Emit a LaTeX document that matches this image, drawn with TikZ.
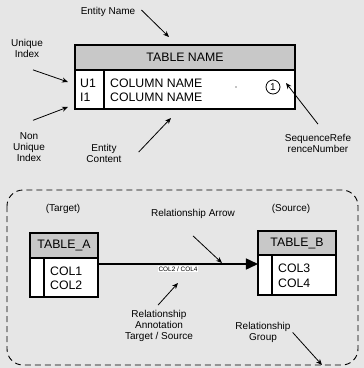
\documentclass[tikz,border=0pt]{standalone}
\usepackage{fontspec}
\setmainfont{Liberation Sans}
\usetikzlibrary{arrows.meta,positioning,calc}
\definecolor{bggray}{RGB}{230,230,230}
\definecolor{headgray}{RGB}{200,200,200}

\begin{document}
\begin{tikzpicture}[x=1pt,y=-1pt,>=Stealth,
    lbl/.style={align=center,font=\fontsize{10}{11}\selectfont,inner sep=1pt},
    ptr/.style={-{Stealth[length=6pt,width=5pt]},line width=0.8pt},
    thead/.style={draw,line width=1.2pt,fill=headgray,outer sep=0pt,inner sep=0pt,minimum height=25pt,font=\fontsize{12.3}{14}\selectfont},
    tbody/.style={draw,line width=1.2pt,fill=white,outer sep=0pt,inner sep=0pt},
    cell/.style={anchor=west,inner sep=0pt,font=\fontsize{12.3}{14}\selectfont}]
    % background
    \fill[bggray] (0,0) rectangle (364,368);

    % Legend table
    \node[thead,minimum width=220pt] (tname) at (185,57.5) {TABLE NAME};
    \node[tbody,minimum width=220pt,minimum height=39pt,below=0pt of tname] (tcontent) {};
    \draw[line width=1.2pt] ($(tcontent.north west)+(29,0)$) -- ($(tcontent.south west)+(29,0)$);
    \node[cell] (u1) at (80,83) {U1};
    \node[cell] (i1) at (80,97) {I1};
    \node[cell] (colname1) at (110,83) {COLUMN NAME};
    \node[cell] (colname2) at (110,97) {COLUMN NAME};
    \fill (236,87) circle (0.6pt);
    \node[draw,circle,line width=0.8pt,minimum size=14pt,inner sep=0pt,font=\fontsize{10}{11}\selectfont] (seq) at (273,87) {1};

    % Legend labels
    \node[lbl] (lblname) at (108,12) {Entity Name};
    \node[lbl] (lbluniq) at (27,48.5) {Unique\\Index};
    \node[lbl] (lblnonuniq) at (29,147) {Non\\Unique\\Index};
    \node[lbl] (lblcontent) at (104,153) {Entity\\Content};
    \node[lbl] (lblseq) at (318,143.5) {SequenceRefe\\renceNumber};

    \coordinate (nametip) at (169,37);
    \coordinate (uniqtip) at (68,82);
    \coordinate (nonuniqtip) at (68,107);
    \coordinate (contenttip) at (171,118);
    \coordinate (seqtip) at (286,83);

    \draw[ptr] ([shift={(5,-2)}]lblname.east) -- (nametip);
    \draw[ptr] ([shift={(6,11)}]lbluniq.south) -- (uniqtip);
    \draw[ptr] ([shift={(4,-11)}]lblnonuniq.north) -- (nonuniqtip);
    \draw[ptr] ([shift={(16,-1)}]lblcontent.east) -- (contenttip);
    \draw[ptr] ([shift={(0,-9)}]lblseq.north) -- (seqtip);

    % Relationship group
    \draw[dash pattern=on 6pt off 4pt,rounded corners=16pt,line width=0.9pt] (7,190) rectangle (358,365);

    \node[lbl] (lbltarget) at (63,209) {(Target)};
    \node[lbl] (lblsource) at (291,209) {(Source)};
    \node[lbl] (lblrelarrow) at (193,214) {Relationship Arrow};

    % TABLE_A
    \node[thead,minimum width=68pt] (ahead) at (64,245.5) {TABLE\_A};
    \node[tbody,minimum width=68pt,minimum height=39pt,below=0pt of ahead] (abody) {};
    \draw[line width=1.2pt] ($(abody.north west)+(14,0)$) -- ($(abody.south west)+(14,0)$);
    \node[cell] (acol1) at (50,271) {COL1};
    \node[cell] (acol2) at (50,285) {COL2};

    % TABLE_B
    \node[thead,minimum width=78pt,minimum height=24pt] (bhead) at (297,243) {TABLE\_B};
    \node[tbody,minimum width=78pt,minimum height=40pt,below=0pt of bhead] (bbody) {};
    \draw[line width=1.2pt] ($(bbody.north west)+(14,0)$) -- ($(bbody.south west)+(14,0)$);
    \node[cell] (bcol3) at (278,268) {COL3};
    \node[cell] (bcol4) at (278,283) {COL4};

    % relationship
    \draw[line width=1.5pt,-{Triangle[length=12pt,width=11pt]}] ([yshift=-6pt]abody.north east) -- ([yshift=-9pt]bbody.north west)
        node[midway,below=1pt,fill=white,inner sep=1pt,font=\fontsize{6.4}{7}\selectfont] (annot) {COL2 / COL4};

    \node[lbl] (lblannot) at (159,326) {Relationship\\Annotation\\Target / Source};
    \node[lbl] (lblgroup) at (263,332.5) {Relationship\\Group};

    \coordinate (relarrowtip) at (222,263);
    \coordinate (annottip) at (178,283);
    \coordinate (grouptip) at (322,365);

    \draw[ptr] ([shift={(0,16)}]lblrelarrow.south) -- (relarrowtip);
    \draw[ptr] ([shift={(-1,-4)}]lblannot.north) -- (annottip);
    \draw[ptr] ([shift={(1,0)}]lblgroup.east) -- (grouptip);
\end{tikzpicture}
\end{document}
